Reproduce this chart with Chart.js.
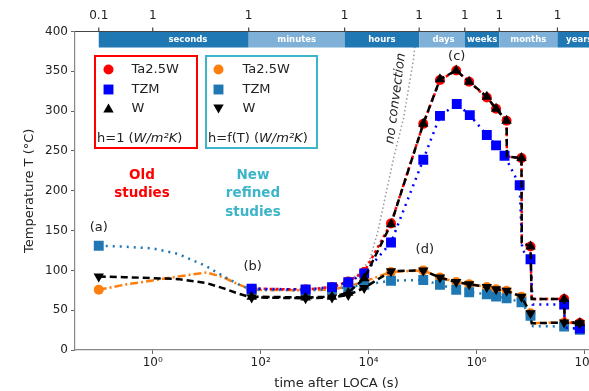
<!DOCTYPE html>
<html>
<head>
<meta charset="UTF-8" />
<title>Temperature after LOCA</title>
<script src="https://cdn.jsdelivr.net/npm/chart.js@4.4.1/dist/chart.umd.min.js"></script>
<style>
  html, body { margin: 0; padding: 0; background: #fff; overflow: hidden; }
  #wrap { position: relative; width: 620px; height: 391px; }
</style>
</head>
<body>
<div id="wrap"><canvas id="chart" width="620" height="391"></canvas></div>
<script>
// ---- values ----
// old studies, h = 1 W/m2K  (time in s, temperature in degC)
const oldTime = [68, 680, 2100, 4200, 8300, 2.6e4, 1.03e5, 2.1e5, 4.2e5, 7.3e5, 1.55e6, 2.3e6, 3.6e6, 3.65e6, 6.8e6, 6.9e6, 1e7, 1.05e7, 4.2e7, 4.3e7, 8.2e7];
const oldTa   = [77, 76, 79, 86, 98, 159, 284, 339, 351, 337, 317, 303, 288, 243, 241, 135, 130, 64, 64, 35, 34];
const oldW    = [67, 66, 67, 72, 90, 158, 284, 340, 351, 337, 318, 303, 288, 243, 241, 135, 130, 64, 64, 35, 34];
const oldMarks = [1, 1, 1, 1, 1, 1, 1, 1, 1, 1, 1, 1, 1, 0, 1, 0, 1, 0, 1, 0, 1];
const oldTzmTime = [68, 680, 2100, 4200, 8300, 2.6e4, 1.03e5, 2.1e5, 4.3e5, 7.5e5, 1.55e6, 2.3e6, 3.3e6, 6.3e6, 7e6, 1e7, 1.1e7, 4.2e7, 4.3e7, 8.2e7];
const oldTzm     = [77, 76, 79, 85, 96, 135, 239, 294, 309, 295, 270, 257, 244, 207, 126, 114, 57, 57, 28, 27];
const oldTzmMarks = [1, 1, 1, 1, 1, 1, 1, 1, 1, 1, 1, 1, 1, 1, 0, 1, 0, 1, 0, 1];

// new refined studies, h = f(T)
const newTime = [0.1, 0.3, 1, 3, 10, 20, 40, 68, 680, 2100, 4200, 8300, 2.6e4, 1.03e5, 2.1e5, 4.2e5, 7.3e5, 1.55e6, 2.3e6, 3.6e6, 6.8e6, 1e7, 1.05e7, 4.2e7, 8.2e7];
const newTzm = [131, 129.7, 127.6, 120.5, 105, 93, 82, 75.6, 75, 76, 79, 82, 87, 88, 82, 75.6, 72.6, 70, 67, 65, 60, 43, 30, 29.5, 25.5];
const newTa  = [75.6, 82, 87.3, 92.3, 97.4, 91.5, 82, 75.6, 75, 76, 80, 86, 98, 100, 91, 85.3, 82.7, 79, 76.4, 74.3, 67, 46, 33.6, 34.5, 33.5];
const newW   = [92.3, 91.5, 90.3, 89, 84, 77.7, 70.5, 66, 65, 66, 69, 78, 99, 100, 91, 85.3, 82.7, 79, 76.4, 74.3, 67, 46, 33.6, 34.5, 33.5];
const newMarks = [1, 0, 0, 0, 0, 0, 0, 1, 1, 1, 1, 1, 1, 1, 1, 1, 1, 1, 1, 1, 1, 1, 0, 1, 1];

// "no convection" reference curve
const noConvTime = [2100, 3400, 6300, 1.05e4, 1.5e4, 2.1e4, 3e4, 4.4e4, 6.8e4, 7.2e4];
const noConvT    = [70, 82, 95, 113, 150, 197, 245, 290, 365, 382];

// axes
const xTicks = [1, 1e2, 1e4, 1e6, 1e8];
const xTickLabels = ['10⁰', '10²', '10⁴', '10⁶', '10⁸'];
const topTicks = [0.1, 1, 60, 3600, 86400, 604800, 2.63e6, 3.156e7];
const topTickLabels = ['0.1', '1', '1', '1', '1', '1', '1', '1'];
const bandEdges = [0.1, 60, 3600, 86400, 604800, 2.63e6, 3.156e7, 1.78e8];
const bandNames = ['seconds', 'minutes', 'hours', 'days', 'weeks', 'months', 'years'];
const bandLabelAt = [4.5, 465, 17600, 2.45e5, 1.27e6, 9.1e6, 8e7];

const FONT = 'DejaVu Sans';
const TXT = '#222';

function pts(times, vals) {
  return times.map((t, i) => ({ x: t, y: vals[i] }));
}
function radii(marks, r) {
  return marks.map(m => (m ? r : 0));
}

const datasets = [
  { label: 'W new', data: pts(newTime, newW), borderColor: '#000', backgroundColor: '#000',
    borderWidth: 2.5, borderDash: [7, 4], pointStyle: 'triangle', pointRotation: 180,
    pointRadius: radii(newMarks, 6), pointBorderWidth: 0 },
  { label: 'W old', data: pts(oldTime, oldW), borderColor: '#000', backgroundColor: '#000',
    borderWidth: 2.5, borderDash: [7, 4], pointStyle: 'triangle',
    pointRadius: radii(oldMarks, 6), pointBorderWidth: 0 },
  { label: 'TZM old', data: pts(oldTzmTime, oldTzm), borderColor: '#0000ff', backgroundColor: '#0000ff',
    borderWidth: 2.5, borderDash: [2, 5], pointStyle: 'rect',
    pointRadius: radii(oldTzmMarks, 7), pointBorderWidth: 0 },
  { label: 'TZM new', data: pts(newTime, newTzm), borderColor: '#1f77b4', backgroundColor: '#1f77b4',
    borderWidth: 2.5, borderDash: [2, 5], pointStyle: 'rect',
    pointRadius: radii(newMarks, 7), pointBorderWidth: 0 },
  { label: 'Ta2.5W old', data: pts(oldTime, oldTa), borderColor: '#ff0000', backgroundColor: '#ff0000',
    borderWidth: 2.5, borderDash: [3, 3], pointStyle: 'circle',
    pointRadius: radii(oldMarks, 5), pointBorderWidth: 0 },
  { label: 'Ta2.5W new', data: pts(newTime, newTa), borderColor: '#ff7f0e', backgroundColor: '#ff7f0e',
    borderWidth: 2.5, borderDash: [8, 3, 2, 3], pointStyle: 'circle',
    pointRadius: radii(newMarks, 5), pointBorderWidth: 0 },
  { label: 'no convection', data: pts(noConvTime, noConvT), borderColor: '#999', borderWidth: 1.5,
    borderDash: [1.5, 2.5], pointRadius: 0 }
];

function marker(ctx, style, x, y, r, color, rot) {
  ctx.save();
  ctx.fillStyle = color;
  ctx.beginPath();
  if (style === 'circle') {
    ctx.arc(x, y, r, 0, Math.PI * 2);
  } else if (style === 'rect') {
    const s = r * Math.SQRT1_2;
    ctx.rect(x - s, y - s, 2 * s, 2 * s);
  } else {
    let a = (rot || 0) * Math.PI / 180;
    for (let k = 0; k < 3; k++) {
      const px = x + Math.sin(a) * r, py = y - Math.cos(a) * r;
      if (k === 0) ctx.moveTo(px, py); else ctx.lineTo(px, py);
      a += Math.PI * 2 / 3;
    }
    ctx.closePath();
  }
  ctx.fill();
  ctx.restore();
}

function drawH(ctx, x, y) {
  // "h=..." line with italic units
  return function (plain, italicPart, tail) {
    ctx.font = '13px ' + FONT;
    ctx.fillText(plain, x, y);
    let w = ctx.measureText(plain).width;
    ctx.font = 'italic 13px ' + FONT;
    ctx.fillText(italicPart, x + w, y);
    w += ctx.measureText(italicPart).width;
    ctx.font = '13px ' + FONT;
    ctx.fillText(tail, x + w, y);
  };
}

const decor = {
  id: 'decor',
  afterDraw(chart) {
    const ctx = chart.ctx;
    const xs = chart.scales.x, ys = chart.scales.y;
    const area = chart.chartArea;
    const X = v => xs.getPixelForValue(v);
    const Y = v => ys.getPixelForValue(v);

    // time band on top
    const bTop = area.top, bH = 16;
    for (let i = 0; i < bandNames.length; i++) {
      ctx.fillStyle = i % 2 === 0 ? '#1f77b4' : '#7fb1d8';
      const x0 = X(bandEdges[i]), x1 = X(bandEdges[i + 1]);
      ctx.fillRect(x0, bTop, x1 - x0, bH);
    }
    ctx.fillStyle = '#fff';
    ctx.font = 'bold 8.5px ' + FONT;
    ctx.textAlign = 'center';
    ctx.textBaseline = 'middle';
    bandNames.forEach((n, i) => ctx.fillText(n, X(bandLabelAt[i]), bTop + bH / 2 + 0.5));

    // top spine, ticks and labels
    ctx.strokeStyle = '#444';
    ctx.lineWidth = 1.2;
    ctx.beginPath();
    ctx.moveTo(area.left, bTop);
    ctx.lineTo(area.right, bTop);
    topTicks.forEach(t => { ctx.moveTo(X(t), bTop); ctx.lineTo(X(t), bTop - 4); });
    ctx.stroke();
    ctx.fillStyle = TXT;
    ctx.font = '12px ' + FONT;
    topTicks.forEach((t, i) => ctx.fillText(topTickLabels[i], X(t), bTop - 16));

    // legend boxes
    ctx.lineWidth = 2;
    ctx.strokeStyle = '#ff0000';
    ctx.strokeRect(95, 56, 102, 92);
    ctx.strokeStyle = '#3cb4c9';
    ctx.strokeRect(206, 56, 111, 92);
    const rows = [69.5, 89.5, 108.5];
    const names = ['Ta2.5W', 'TZM', 'W'];
    marker(ctx, 'circle', 108.5, rows[0], 5, '#ff0000');
    marker(ctx, 'rect', 108.5, rows[1], 7, '#0000ff');
    marker(ctx, 'triangle', 108.5, rows[2] + 1, 6, '#000', 0);
    marker(ctx, 'circle', 218.5, rows[0], 5, '#ff7f0e');
    marker(ctx, 'rect', 218.5, rows[1], 7, '#1f77b4');
    marker(ctx, 'triangle', 218.5, rows[2] - 1, 6, '#000', 180);
    ctx.fillStyle = TXT;
    ctx.font = '13px ' + FONT;
    ctx.textAlign = 'left';
    names.forEach((n, i) => { ctx.fillText(n, 131.5, rows[i]); ctx.fillText(n, 242.5, rows[i]); });
    drawH(ctx, 97, 138.5)('h=1 (', 'W/m²K', ')');
    drawH(ctx, 208, 138.5)('h=f(T) (', 'W/m²K', ')');

    // study labels
    ctx.textAlign = 'center';
    ctx.font = 'bold 13.5px ' + FONT;
    ctx.fillStyle = '#ff0000';
    ['Old', 'studies'].forEach((s, i) => ctx.fillText(s, 142, 175 + i * 18.5));
    ctx.fillStyle = '#3cb4c9';
    ['New', 'refined', 'studies'].forEach((s, i) => ctx.fillText(s, 253, 175 + i * 18.5));

    // point annotations
    ctx.fillStyle = TXT;
    ctx.font = '13px ' + FONT;
    ctx.fillText('(a)', X(0.1), Y(154));
    ctx.fillText('(b)', X(71), Y(104.5));
    ctx.fillText('(c)', X(4.3e5), Y(369));
    ctx.fillText('(d)', X(1.1e5), Y(125.5));

    // no convection label
    ctx.save();
    ctx.translate(X(3.2e4), Y(316));
    ctx.rotate(-82.6 * Math.PI / 180);
    ctx.font = 'italic 13px ' + FONT;
    ctx.fillText('no convection', 0, 0);
    ctx.restore();
  }
};

new Chart(document.getElementById('chart'), {
  type: 'line',
  data: { datasets: datasets },
  options: {
    responsive: false,
    animation: false,
    devicePixelRatio: 1,
    layout: { padding: { top: 31.5, right: 22, left: 0, bottom: 0 } },
    plugins: { legend: { display: false }, tooltip: { enabled: false } },
    scales: {
      x: {
        type: 'logarithmic',
        min: 0.0363,
        max: 1.78e8,
        afterBuildTicks: s => { s.ticks = xTicks.map(v => ({ value: v })); },
        afterFit: s => { s.height = 41; },
        ticks: {
          callback: (v, i) => xTickLabels[i],
          font: { family: FONT, size: 12 }, color: TXT, padding: 2,
          maxRotation: 0, autoSkip: false
        },
        grid: { drawOnChartArea: false, tickLength: 4, tickColor: '#666' },
        border: { color: '#888', width: 1.2 },
        title: { display: true, text: 'time after LOCA (s)', color: TXT,
                 font: { family: FONT, size: 13 }, padding: { top: 0, bottom: 0 } }
      },
      y: {
        min: 0,
        max: 400,
        afterFit: s => { s.width = 75; },
        ticks: { stepSize: 50, font: { family: FONT, size: 12 }, color: TXT, padding: 3 },
        grid: { drawOnChartArea: false, tickLength: 4, tickColor: '#666' },
        border: { color: '#888', width: 1.2 },
        title: { display: true, text: 'Temperature T (°C)', color: TXT,
                 font: { family: FONT, size: 13 }, padding: { top: 22, bottom: 0 } }
      }
    }
  },
  plugins: [decor]
});
</script>
</body>
</html>
